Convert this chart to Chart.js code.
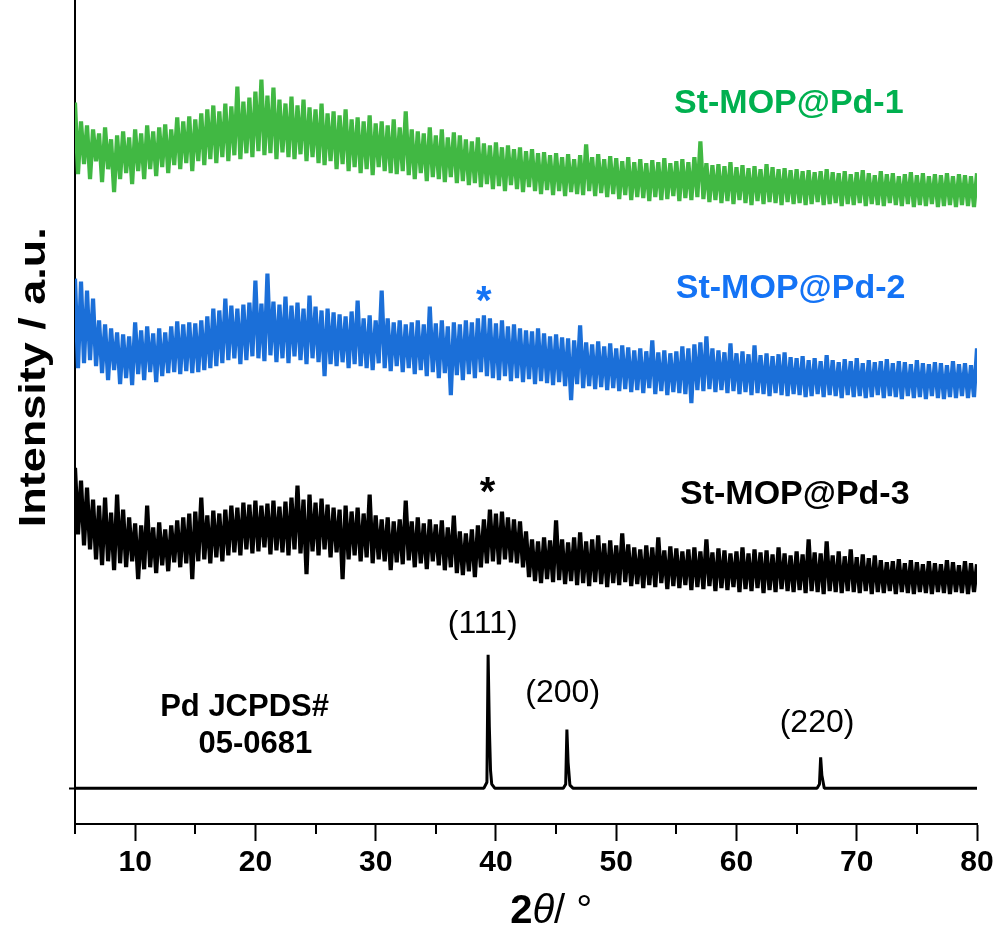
<!DOCTYPE html>
<html lang="en">
<head>
    <meta charset="UTF-8">
    <title>XRD patterns - St-MOP@Pd</title>
    <script src="https://cdn.jsdelivr.net/npm/chart.js"></script>
    <style>
        body { margin: 0; background: #fff; }
        .chart-box { position: relative; width: 1000px; height: 941px; }
    </style>
</head>
<body>
    <div class="chart-box">
        <canvas id="xrdChart" width="1000" height="941"></canvas>
    </div>

    <script>
        // scan grid (2theta, degrees)
        const scanStart = 5;
        const scanStep = 0.25;

        // raw counts above each trace's own baseline, one row per degree
        const pd1Counts = [
            107, 35, 88, 45,   84, 30, 80, 48,   76, 27, 82, 40,   70, 17, 74, 30,   78, 36, 72, 25,
            80, 38, 76, 30,    84, 40, 78, 33,   82, 42, 85, 36,   80, 44, 92, 40,   88, 46, 93, 38,
            90, 48, 96, 44,    100, 50, 104, 46, 98, 52, 106, 48,  103, 54, 123, 50, 108, 56, 112, 52,
            118, 58, 130, 54,  114, 56, 122, 50, 110, 57, 106, 52, 113, 50, 104, 55, 110, 48, 102, 52,
            100, 46, 106, 44,  96, 48, 98, 40,   94, 45, 100, 38,  90, 42, 92, 36,   88, 40, 94, 34,
            86, 42, 88, 38,    84, 36, 90, 35,   82, 38, 98, 34,   80, 30, 78, 36,   76, 28, 82, 32,
            74, 30, 80, 27,    72, 32, 77, 26,   74, 28, 70, 24,   68, 26, 72, 22,   66, 25, 64, 20,
            67, 23, 62, 18,    64, 24, 60, 20,   62, 17, 58, 22,   60, 18, 56, 15,   57, 19, 54, 14,
            56, 18, 52, 13,    55, 17, 50, 15,   54, 14, 65, 18,   52, 13, 55, 16,   50, 12, 53, 15,
            51, 10, 48, 14,    52, 9, 47, 12,    50, 11, 46, 8,    49, 12, 47, 9,    51, 10, 46, 13,
            48, 8, 50, 11,     47, 9, 52, 12,    68, 10, 46, 7,    44, 9, 45, 6,     43, 8, 47, 5,
            42, 9, 44, 6,      41, 4, 43, 8,     40, 5, 45, 7,     42, 6, 40, 4,     41, 7, 39, 5,
            40, 6, 38, 4,      39, 5, 37, 7,     38, 4, 40, 5,     37, 6, 36, 3,     38, 5, 35, 4,
            37, 6, 39, 3,      36, 5, 34, 4,     38, 3, 35, 6,     36, 4, 33, 3,     35, 5, 37, 2,
            34, 4, 36, 3,      33, 5, 35, 2,     34, 3, 36, 4,     33, 2, 35, 4,     34, 3, 33, 2,
            36
        ];

        const pd2Counts = [
            130, 40, 127, 45,  118, 48, 110, 42, 88, 35, 84, 28,   80, 38, 76, 24,   74, 30, 72, 23,
            86, 34, 78, 28,    82, 36, 75, 26,   80, 32, 76, 35,   82, 36, 87, 34,   84, 37, 86, 35,
            85, 36, 88, 38,    92, 40, 100, 42,  98, 45, 110, 48,  103, 50, 100, 44, 104, 48, 106, 52,
            128, 50, 105, 47,  135, 53, 107, 46, 104, 50, 112, 45, 103, 52, 106, 48, 100, 44, 113, 50,
            102, 46, 98, 32,   100, 44, 96, 42,  94, 46, 92, 40,   97, 44, 108, 42,  90, 40, 93, 38,
            88, 45, 118, 40,   90, 37, 86, 42,   88, 36, 84, 40,   86, 34, 88, 38,   84, 32, 102, 36,
            85, 30, 88, 35,    82, 13, 86, 33,   84, 28, 88, 34,   86, 30, 90, 36,   93, 32, 90, 30,
            85, 28, 88, 32,    82, 27, 84, 30,   80, 26, 78, 29,   77, 24, 80, 27,   75, 25, 72, 23,
            74, 26, 71, 22,    70, 8, 68, 24,    83, 20, 66, 22,   64, 19, 67, 21,   62, 18, 65, 20,
            60, 17, 63, 19,    61, 16, 58, 18,   60, 15, 57, 20,   68, 14, 56, 17,   58, 13, 55, 16,
            57, 15, 62, 14,    60, 5, 64, 18,    66, 17, 72, 19,   60, 16, 58, 18,   56, 15, 65, 17,
            55, 14, 57, 16,    54, 13, 63, 15,   53, 14, 55, 12,   52, 15, 54, 13,   56, 12, 51, 14,
            50, 13, 52, 11,    48, 12, 50, 14,   47, 11, 53, 13,   48, 12, 46, 10,   49, 13, 47, 11,
            50, 12, 45, 10,    48, 11, 46, 13,   47, 10, 49, 12,   45, 11, 47, 9,    46, 12, 44, 10,
            48, 11, 45, 9,     44, 12, 46, 10,   45, 9, 43, 11,    47, 10, 44, 12,   45, 10, 43, 11,
            60
        ];

        const pd3Counts = [
            130, 63, 117, 52,  110, 48, 98, 38,  92, 32, 100, 36,  85, 27, 103, 34,  88, 30, 80, 36,
            74, 18, 72, 28,    92, 30, 70, 24,   75, 32, 68, 26,   72, 35, 77, 30,   80, 34, 84, 18,
            86, 36, 100, 38,   82, 34, 87, 40,   84, 36, 88, 42,   92, 45, 90, 42,   95, 48, 93, 44,
            97, 46, 92, 50,    94, 43, 97, 47,   91, 45, 96, 42,   100, 48, 112, 44, 98, 23, 103, 46,
            95, 42, 99, 48,    93, 40, 90, 45,   88, 18, 92, 38,   86, 42, 90, 36,   84, 40, 103, 34,
            82, 38, 78, 36,    80, 27, 76, 35,   78, 33, 97, 37,   76, 30, 80, 34,   74, 28, 78, 36,
            73, 32, 77, 27,    70, 30, 82, 24,   66, 22, 64, 26,   68, 20, 72, 30,   78, 34, 88, 36,
            84, 33, 86, 38,    80, 35, 78, 34,   76, 30, 66, 20,   58, 16, 56, 14,   60, 18, 57, 15,
            77, 17, 58, 13,    55, 16, 60, 12,   65, 14, 56, 11,   58, 15, 62, 13,   54, 10, 57, 14,
            52, 12, 64, 15,    53, 11, 50, 13,   48, 9, 52, 12,    50, 10, 60, 14,   47, 8, 51, 11,
            49, 9, 46, 12,     48, 7, 50, 10,    46, 8, 58, 11,    45, 6, 49, 9,     47, 7, 44, 10,
            46, 5, 50, 8,      44, 6, 48, 9,     45, 4, 47, 7,     43, 5, 50, 8,     44, 6, 42, 5,
            46, 7, 43, 4,      58, 6, 45, 5,     44, 3, 56, 6,     42, 5, 46, 4,     41, 6, 48, 5,
            40, 4, 43, 6,      39, 3, 42, 5,     37, 4, 35, 6,     36, 3, 38, 5,     34, 4, 37, 3,
            35, 5, 33, 4,      36, 3, 34, 5,     33, 4, 37, 3,     35, 5, 32, 4,     36, 3, 34, 5,
            33
        ];

        // Pd reference pattern (JCPDS 05-0681)
        const pdRefTheta  = [5, 39.0, 39.25, 39.35, 39.45, 39.55, 39.65, 39.9, 45.6, 45.8, 45.9, 46.0, 46.15, 46.4, 66.7, 66.9, 67.0, 67.1, 67.3, 80];
        const pdRefCounts = [0, 0,    6,     134,   62,    18,    4,     0,    0,    4,    59,   26,   3,     0,    0,    4,    31,   13,   0,    0];

        // vertical offsets used to stack the patterns
        const pd1Offset = 618;
        const pd2Offset = 418;
        const pd3Offset = 228;
        const pdRefOffset = 36;

        const xTickValues = [10, 20, 30, 40, 50, 60, 70, 80];
        const xMinorTicks = [5, 15, 25, 35, 45, 55, 65, 75];

        const FONT = '"Liberation Sans", Arial, Helvetica, sans-serif';

        // text labels placed in data space (2theta, intensity)
        const curveLabels = [
            { text: 'St-MOP@Pd-1', x: 64.35, y: 724, color: '#00b04f', font: 'bold 34px ' + FONT },
            { text: 'St-MOP@Pd-2', x: 64.5,  y: 538, color: '#1473f5', font: 'bold 34px ' + FONT },
            { text: 'St-MOP@Pd-3', x: 64.85, y: 331, color: '#000',    font: 'bold 34px ' + FONT },
            { text: '*',           x: 39.0,  y: 524, color: '#1473f5', font: 'bold 40px ' + FONT },
            { text: '*',           x: 39.3,  y: 332, color: '#000',    font: 'bold 40px ' + FONT },
            { text: '(111)',       x: 38.9,  y: 201, color: '#000',    font: '32px ' + FONT },
            { text: '(200)',       x: 45.55, y: 131, color: '#000',    font: '32px ' + FONT },
            { text: '(220)',       x: 66.7,  y: 101, color: '#000',    font: '32px ' + FONT },
            { text: 'Pd JCPDS#',   x: 19.1,  y: 117, color: '#000',    font: 'bold 31px ' + FONT },
            { text: '05-0681',     x: 20.0,  y: 80,  color: '#000',    font: 'bold 31px ' + FONT }
        ];

        function toPoints(counts, offset) {
            return counts.map((c, i) => ({ x: scanStart + i * scanStep, y: c + offset }));
        }

        const xrdDecor = {
            id: 'xrdDecor',
            afterDraw(chart) {
                const ctx = chart.ctx;
                const xs = chart.scales.x;
                const ys = chart.scales.y;
                const area = chart.chartArea;
                ctx.save();

                // minor ticks on the 2theta axis
                ctx.strokeStyle = '#000';
                ctx.lineWidth = 2;
                xMinorTicks.forEach(v => {
                    const px = Math.round(xs.getPixelForValue(v));
                    ctx.beginPath();
                    ctx.moveTo(px, area.bottom);
                    ctx.lineTo(px, area.bottom + 10);
                    ctx.stroke();
                });

                // sample names, markers and hkl labels
                ctx.textAlign = 'center';
                ctx.textBaseline = 'middle';
                curveLabels.forEach(l => {
                    ctx.font = l.font;
                    ctx.fillStyle = l.color;
                    ctx.fillText(l.text, xs.getPixelForValue(l.x), ys.getPixelForValue(l.y));
                });

                // y axis title, rotated and a little stretched
                ctx.save();
                ctx.translate(area.left - 40, ys.getPixelForValue(449));
                ctx.rotate(-Math.PI / 2);
                ctx.scale(1.25, 1);
                ctx.font = 'bold 36px ' + FONT;
                ctx.fillStyle = '#000';
                ctx.fillText('Intensity / a.u.', 0, 0);
                ctx.restore();

                // x axis title: bold 2, italic theta
                const runs = [
                    { text: '2', font: 'bold 40px ' + FONT },
                    { text: '\u03b8', font: 'italic 40px ' + FONT },
                    { text: '/ \u00b0', font: '40px ' + FONT }
                ];
                let total = 0;
                runs.forEach(r => { ctx.font = r.font; r.w = ctx.measureText(r.text).width; total += r.w; });
                let cx = xs.getPixelForValue(44.6) - total / 2;
                const ty = area.bottom + 88;
                ctx.fillStyle = '#000';
                ctx.textAlign = 'left';
                runs.forEach(r => {
                    ctx.font = r.font;
                    ctx.fillText(r.text, cx, ty);
                    cx += r.w;
                });
                ctx.restore();
            }
        };

        new Chart(document.getElementById('xrdChart'), {
            type: 'line',
            data: {
                datasets: [
                    {
                        label: 'Pd JCPDS# 05-0681',
                        data: pdRefTheta.map((t, i) => ({ x: t, y: pdRefCounts[i] + pdRefOffset })),
                        borderColor: '#000',
                        borderWidth: 3
                    },
                    {
                        label: 'St-MOP@Pd-3',
                        data: toPoints(pd3Counts, pd3Offset),
                        borderColor: '#000',
                        borderWidth: 4.2
                    },
                    {
                        label: 'St-MOP@Pd-2',
                        data: toPoints(pd2Counts, pd2Offset),
                        borderColor: '#1b6fd8',
                        borderWidth: 4.2
                    },
                    {
                        label: 'St-MOP@Pd-1',
                        data: toPoints(pd1Counts, pd1Offset),
                        borderColor: '#41b843',
                        borderWidth: 4.2
                    }
                ]
            },
            options: {
                responsive: false,
                animation: false,
                events: [],
                elements: {
                    point: { radius: 0 },
                    line: { tension: 0, borderJoinStyle: 'bevel' }
                },
                layout: { padding: { left: 69, right: 23, top: 0, bottom: 56 } },
                plugins: {
                    legend: { display: false },
                    tooltip: { enabled: false }
                },
                scales: {
                    x: {
                        type: 'linear',
                        min: 5,
                        max: 80,
                        border: { color: '#000', width: 2 },
                        grid: { drawOnChartArea: false, tickLength: 17, tickWidth: 2, tickColor: '#000' },
                        afterBuildTicks: axis => { axis.ticks = xTickValues.map(v => ({ value: v })); },
                        ticks: {
                            color: '#000',
                            padding: 4,
                            maxRotation: 0,
                            autoSkip: false,
                            font: { family: FONT, size: 30, weight: 'bold' }
                        }
                    },
                    y: {
                        min: 0,
                        max: 828,
                        border: { color: '#000', width: 2 },
                        grid: { drawOnChartArea: false, tickLength: 6, tickWidth: 2, tickColor: '#000' },
                        afterBuildTicks: axis => { axis.ticks = [{ value: pdRefOffset }]; },
                        ticks: { display: false },
                        title: { display: false }
                    }
                }
            },
            plugins: [xrdDecor]
        });
    </script>
</body>
</html>
